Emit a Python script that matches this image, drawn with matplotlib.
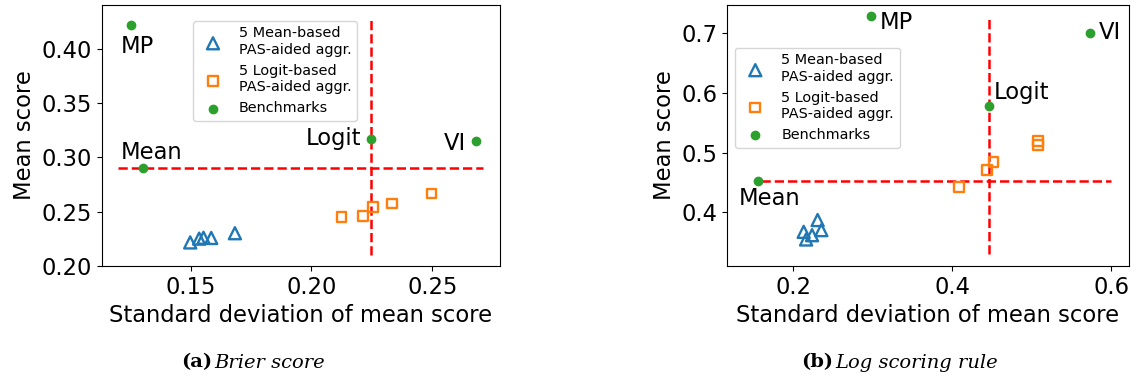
import matplotlib
matplotlib.use("Agg")
import matplotlib.pyplot as plt

# (a) Brier score
brier_mean_x = [0.1498, 0.1535, 0.1553, 0.1585, 0.1683]
brier_mean_y = [0.2215, 0.2250, 0.2258, 0.2256, 0.2300]
brier_logit_x = [0.2124, 0.2214, 0.2256, 0.2334, 0.2497]
brier_logit_y = [0.2447, 0.2460, 0.2540, 0.2574, 0.2667]
brier_bench_names = ["MP", "Mean", "Logit", "VI"]
brier_bench_x = [0.1253, 0.1304, 0.2247, 0.2680]
brier_bench_y = [0.4222, 0.2900, 0.3167, 0.3155]

# (b) Log scoring rule
log_mean_x = [0.2133, 0.2163, 0.2238, 0.2308, 0.2355]
log_mean_y = [0.3667, 0.3539, 0.3611, 0.3865, 0.3696]
log_logit_x = [0.4084, 0.4435, 0.4518, 0.5072, 0.5072]
log_logit_y = [0.4414, 0.4701, 0.4843, 0.5200, 0.5120]
log_bench_names = ["MP", "Mean", "Logit", "VI"]
log_bench_x = [0.2978, 0.1556, 0.4464, 0.5728]
log_bench_y = [0.7287, 0.4527, 0.5780, 0.7010]

FS = 16.3
BLUE, ORANGE, GREEN = "#1f77b4", "#ff7f0e", "#2ca02c"

fig = plt.figure(figsize=(11.36, 3.81), dpi=100)
ax1 = fig.add_axes([0.0898, 0.3018, 0.3503, 0.685])
ax2 = fig.add_axes([0.640, 0.3018, 0.3538, 0.685])


def draw(ax, mx, my, lx, ly, bx, by, names, hline, vline, labels, legend_anchor):
    ax.plot(hline[0], [hline[1]] * 2, color="red", linestyle="--", lw=1.8, zorder=2)
    ax.plot([vline[0]] * 2, vline[1], color="red", linestyle="--", lw=1.8, zorder=2)
    ax.scatter(mx, my, marker="^", s=75, facecolors="none", edgecolors=BLUE,
               linewidths=1.7, zorder=3, label="5 Mean-based\nPAS-aided aggr.")
    ax.scatter(lx, ly, marker="s", s=50, facecolors="none", edgecolors=ORANGE,
               linewidths=1.7, zorder=3, label="5 Logit-based\nPAS-aided aggr.")
    ax.scatter(bx, by, s=36, color=GREEN, zorder=4, label="Benchmarks")
    for name in names:
        tx, ty, ha = labels[name]
        ax.text(tx, ty, name, fontsize=FS, ha=ha, va="baseline")
    ax.legend(loc="upper left", bbox_to_anchor=legend_anchor, borderaxespad=0,
              fontsize=10.4, scatterpoints=1)
    ax.set_xlabel("Standard deviation of mean score", fontsize=FS)
    ax.set_ylabel("Mean score", fontsize=FS)
    ax.tick_params(labelsize=FS)


draw(ax1, brier_mean_x, brier_mean_y, brier_logit_x, brier_logit_y,
     brier_bench_x, brier_bench_y, brier_bench_names,
     ([0.12, 0.271], 0.2905), (0.2245, [0.21, 0.43]),
     {"MP": (0.121, 0.3969, "left"), "Mean": (0.121, 0.2988, "left"),
      "Logit": (0.2208, 0.3114, "right"), "VI": (0.2638, 0.3068, "right")},
     (0.228, 0.94))
ax1.set_xlim(0.1133, 0.278)
ax1.set_ylim(0.1997, 0.4408)
ax1.set_xticks([0.15, 0.20, 0.25])
ax1.set_yticks([0.20, 0.25, 0.30, 0.35, 0.40])

draw(ax2, log_mean_x, log_mean_y, log_logit_x, log_logit_y,
     log_bench_x, log_bench_y, log_bench_names,
     ([0.16, 0.60], 0.4527), (0.4465, [0.33, 0.73]),
     {"MP": (0.3086, 0.7073, "left"), "Mean": (0.1318, 0.4118, "left"),
      "Logit": (0.4523, 0.5905, "left"), "VI": (0.5845, 0.6904, "left")},
     (0.02, 0.837))
ax2.set_xlim(0.117, 0.622)
ax2.set_ylim(0.3093, 0.7478)
ax2.set_xticks([0.2, 0.4, 0.6])
ax2.set_yticks([0.4, 0.5, 0.6, 0.7])

# captions
cap_y = 0.0354
cap_fs = 14
fig.text(0.1866, cap_y, "(a)", fontsize=cap_fs, family="DejaVu Serif", weight="bold",
         ha="right", va="baseline")
fig.text(0.1884, cap_y, "Brier score", fontsize=cap_fs, family="DejaVu Serif",
         style="italic", ha="left", va="baseline")
fig.text(0.7333, cap_y, "(b)", fontsize=cap_fs, family="DejaVu Serif", weight="bold",
         ha="right", va="baseline")
fig.text(0.7351, cap_y, "Log scoring rule", fontsize=cap_fs, family="DejaVu Serif",
         style="italic", ha="left", va="baseline")

fig.savefig("out.png", dpi=100)
